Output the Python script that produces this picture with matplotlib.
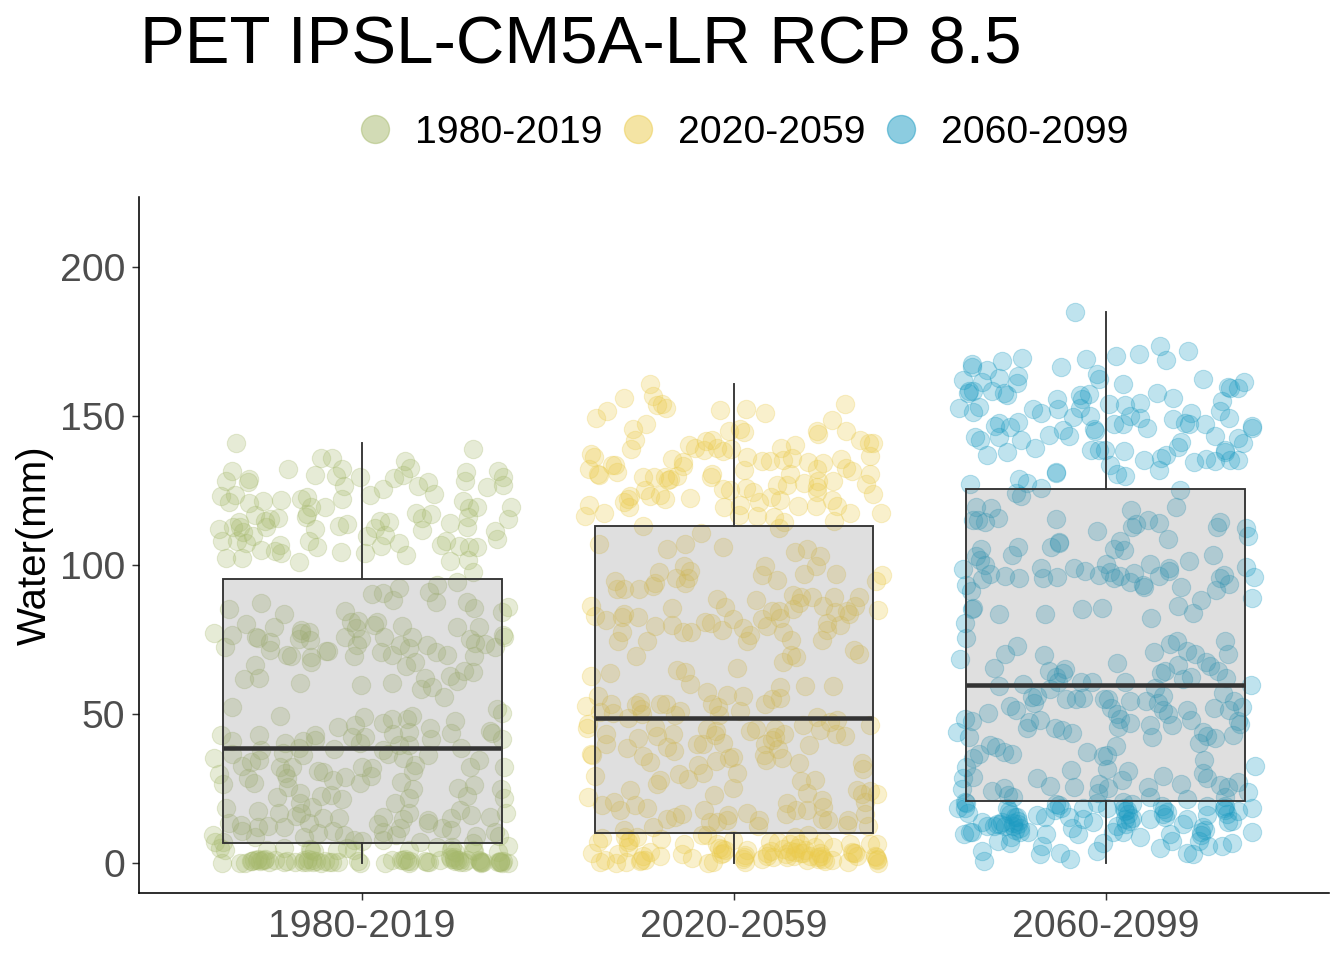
import matplotlib
matplotlib.use('Agg')
import matplotlib.pyplot as plt
from matplotlib.lines import Line2D
import numpy as np

plt.rcParams['font.family'] = ['Liberation Sans', 'DejaVu Sans']

periods = ['1980-2019', '2020-2059', '2060-2099']
colors = ['#A6B96C', '#EBCB4B', '#1B9BC2']

# boxplot values
whisker_low = [0, 0, 0]
q1 = [6.7, 10.0, 20.8]
medians = [38.6, 48.7, 59.7]
q3 = [95.3, 113.0, 125.5]
whisker_high = [140.9, 160.7, 184.9]
yticks = [0, 50, 100, 150, 200]

# (jitter around the category, water in mm)
points_1980 = [
    (-.338,140.9),(.297,139.0),(-.111,135.8),(-.082,135.8),(.116,134.9),(-.350,131.4),(-.198,132.1),(.278,131.1),
    (.366,131.5),(-.055,132.1),(.129,132.5),(-.127,130.1),(-.071,129.9),(.111,130.2),(-.005,129.4),(.087,129.1),
    (.380,129.5),(-.366,128.3),(-.308,127.8),(-.303,128.8),(.178,127.8),(.276,128.1),(.336,126.1),(.380,126.7),
    (-.050,126.5),(.151,126.5),(.055,125.4),(.020,123.4),(.192,123.7),(-.380,123.3),(-.341,123.4),(-.357,121.1),
    (-.303,120.8),(-.267,121.4),(-.219,121.7),(-.165,122.1),(-.147,122.7),(-.055,122.1),(.272,121.4),(.400,119.4),
    (-.099,119.4),(-.138,119.4),(.287,119.0),(.308,119.4),(-.289,116.9),(-.149,117.0),(-.151,116.2),(.145,117.6),
    (.186,117.1),(.160,115.9),(.286,116.2),(.393,115.4),(-.225,115.7),(-.249,115.5),(-.261,114.9),(-.332,114.3),
    (.237,114.0),(.073,114.5),(.048,114.9),(-.041,113.8),(-.061,113.1),(-.384,112.0),(-.346,112.7),(-.258,112.7),
    (-.126,112.0),(.281,112.7),(.160,111.6),(.356,111.4),(.035,112.3),(-.328,112.9),(-.319,111.2),(-.294,109.8),
    (.013,109.8),(.062,110.1),(-.377,108.2),(-.337,107.9),(-.312,107.3),(-.142,108.2),(-.121,106.0),(.362,108.6),
    (.226,107.9),(.211,106.7),(.260,106.4),(.287,106.2),(.308,106.2),(.098,107.5),(.050,106.4),(-.220,106.7),
    (-.272,105.0),(-.234,104.7),(-.219,103.9),(-.367,102.4),(-.324,102.4),(-.058,104.3),(.009,103.9),(.119,103.5),
    (-.171,101.0),(.235,101.4),(.286,101.7),(.299,97.6),(.201,93.3),(.256,94.2),(.026,90.3),(.055,90.7),
    (.099,92.2),(.181,91.0),(.084,88.2),(.198,87.5),(-.359,85.3),(-.271,87.3),(-.211,83.5),(-.045,84.5),
    (.283,87.5),(.300,85.5),(.391,86.0),(.377,84.1),(-.031,81.0),(-.010,81.1),(.041,81.0),(.032,79.9),
    (-.311,80.1),(-.237,79.1),(-.165,78.2),(-.144,77.6),(-.398,77.1),(-.351,76.5),(-.286,75.7),(-.279,75.4),
    (-.164,77.3),(-.249,74.3),(-.169,75.2),(-.139,74.8),(-.017,78.8),(-.047,75.7),(-.013,73.2),(-.003,75.1),
    (.106,79.5),(.058,75.7),(.133,76.0),(.256,79.1),(.314,79.1),(.290,75.2),(.304,73.7),(-.370,72.6),
    (-.249,71.5),(-.203,69.7),(-.190,69.5),(-.137,69.0),(-.097,71.3),(-.093,71.3),(-.023,69.5),(.052,70.9),
    (.079,69.9),(.102,73.2),(.125,72.0),(.174,73.1),(.198,70.9),(.229,69.7),(.358,72.6),(.331,73.5),
    (.382,76.0),(.378,76.5),(-.138,67.5),(-.289,66.3),(.300,69.3),(.118,66.1),(.143,67.6),(-.317,61.6),
    (-.276,62.0),(-.168,60.3),(-.002,59.6),(.079,60.3),(.168,62.0),(.235,62.8),(.254,61.2),(.275,64.3),
    (.297,64.2),(.157,58.4),(.187,59.2),(.219,55.6),(-.349,52.5),(-.222,49.2),(.362,51.8),(.375,50.5),
    (.004,48.9),(.081,48.4),(.057,46.9),(.122,48.3),(.134,49.4),(.249,47.8),(-.065,45.5),(-.019,46.3),
    (.084,43.3),(.125,44.1),(.183,45.2),(.185,41.5),(.239,43.7),(.344,44.4),(.349,43.7),(-.380,42.9),
    (-.349,41.1),(-.278,42.9),(-.207,40.2),(-.160,41.1),(-.128,43.0),(-.126,41.3),(-.026,42.4),(.008,42.4),
    (-.005,40.4),(-.075,38.1),(-.271,37.9),(.056,37.9),(.070,36.6),(.100,39.6),(.127,39.6),(.265,38.5),
    (.375,41.5),(-.398,35.1),(-.349,36.5),(-.323,32.7),(-.299,34.0),(-.276,34.4),(-.214,36.8),(-.189,32.3),
    (-.160,36.3),(-.171,38.5),(-.220,32.3),(-.207,30.1),(-.119,31.0),(-.104,30.4),(-.045,29.0),(-.001,32.3),
    (.026,31.8),(-.007,26.7),(.024,29.3),(-.077,27.9),(.109,35.1),(.142,32.9),(.136,31.0),(.178,36.3),
    (.314,34.6),(.290,32.1),(.381,32.3),(-.384,29.9),(-.373,26.5),(-.308,28.4),(-.292,27.0),(-.198,25.6),
    (-.203,28.4),(.105,27.1),(.138,24.7),(.257,25.1),(.302,26.2),(.373,24.7),(.381,21.7),(-.228,22.0),
    (-.168,23.4),(-.167,20.0),(-.110,22.5),(-.084,22.9),(-.055,21.5),(.283,22.5),(.127,21.7),(.088,20.0),
    (-.366,18.3),(-.281,17.4),(-.134,18.7),(-.224,16.7),(-.164,16.9),(-.177,15.8),(.387,16.9),(.238,15.0),
    (.263,17.8),(.293,16.1),(.344,15.3),(-.359,13.4),(-.327,12.6),(-.252,12.5),(-.209,12.2),(-.279,12.2),
    (-.106,15.0),(-.063,15.0),(-.143,13.4),(.056,15.6),(.043,13.0),(.111,14.7),(.125,16.7),(.102,11.7),
    (.176,14.5),(.176,13.4),(.239,11.1),(.357,10.5),(-.400,9.4),(-.373,7.1),(-.323,10.8),(-.288,8.8),
    (-.156,8.6),(-.120,10.0),(-.077,10.8),(-.050,9.4),(-.023,7.7),(-.001,7.5),(.057,10.5),(.057,7.7),
    (.091,9.4),(.214,11.6),(.369,9.2),(.306,9.1),(.299,6.6),(-.395,7.1),(.156,7.1),(.393,5.8),
    (-.382,4.9),(-.368,4.4),(-.377,0),(-.315,.1),(-.297,.8),(-.279,1.2),(-.261,1.2),(-.256,4.4),
    (-.211,.4),(-.203,.8),(-.210,4.9),(-.180,.4),(-.158,.4),(-.138,4.4),(-.133,.4),(-.111,.1),
    (-.090,.4),(-.064,.4),(-.041,4.9),(-.068,4.4),(-.023,4.4),(-.010,.8),(-.005,0),(.062,.1),
    (.080,1.0),(.111,1.0),(.120,.8),(.125,.1),(.125,4.4),(.174,.4),(.210,1.0),(.237,2.1),
    (.246,1.2),(.263,.4),(.281,1.0),(.317,.3),(.319,0),(.371,.3),(.375,.1),(.393,.1),
    (.299,4.4),(.241,5.5),(.201,5.5),(.366,3.8),(-.328,0),(-.234,1.0),(-.283,.9),(-.270,1.1),
    (-.135,.9),(-.148,.4),(.246,1.9),(.254,1.0),(.317,.8),(.371,.8),
    (-.300,.6),(-.290,1.0),(-.275,.6),(-.265,1.0),(-.250,.5),(-.155,.9),(-.145,1.2),(-.125,.6),
    (-.100,.8),(-.080,.5),(.105,.9),(.115,1.3),(.130,.6),(.170,.7),(.180,.3),(.240,1.4),
    (.250,.7),(.260,1.0),(.275,.5),(.320,.5),(.325,.2),(.315,.9),(.370,.5),(.380,.7),
    (.365,.2),(-.140,4.8),(-.130,4.0),(.240,4.5),(.250,3.8),(.300,4.0),
]

points_2020 = [
    (-.225,160.7),(-.219,156.7),(-.297,155.9),(-.194,153.9),(-.208,153.7),(-.183,152.6),(-.341,151.6),(-.370,149.5),
    (.298,154.2),(-.037,152.0),(.033,152.2),(.084,150.9),(.264,148.8),(-.236,147.2),(-.272,145.5),(-.265,141.9),
    (-.277,138.8),(.016,145.8),(-.013,144.9),(.026,144.6),(.222,145.1),(.227,143.8),(.301,145.1),(.339,141.8),
    (.362,141.1),(.375,140.8),(-.120,140.3),(-.105,139.1),(-.075,141.5),(-.060,142.1),(-.082,138.5),(-.047,139.3),
    (-.029,138.2),(-.007,138.8),(.127,139.4),(.165,140.4),(-.384,137.4),(-.376,136.3),(-.167,135.7),(-.138,134.5),
    (-.136,133.2),(.035,136.1),(.074,134.9),(.097,134.9),(.131,135.4),(.155,136.0),(.200,134.5),(.238,134.1),
    (.289,135.7),(.366,136.5),(-.390,132.1),(-.327,133.7),(-.319,133.5),(-.314,131.3),(-.367,130.7),(-.362,130.1),
    (-.060,130.6),(-.062,129.6),(.028,131.8),(.151,130.6),(.222,132.1),(.301,132.4),(.316,131.5),(.367,130.4),
    (-.244,129.4),(-.215,129.4),(-.186,129.6),(-.172,129.0),(-.154,129.8),(-.177,128.5),(.116,127.0),(.142,127.0),
    (.188,127.4),(.267,128.3),(.226,128.3),(.355,127.1),(-.239,125.3),(.222,126.2),(.222,124.6),(-.029,125.5),
    (-.011,125.3),(.031,125.7),(.050,124.6),(.375,123.7),(-.226,123.1),(-.199,123.4),(-.186,122.3),(-.117,122.4),
    (-.281,123.1),(-.286,122.3),(-.296,121.2),(-.283,119.3),(-.390,120.3),(-.349,117.6),(-.400,116.3),(-.027,119.5),
    (.017,120.3),(.014,116.7),(.068,121.1),(.063,116.4),(.099,122.7),(.125,121.8),(.108,116.2),(.135,114.3),
    (.122,112.5),(.173,119.7),(.221,119.7),(.263,121.8),(.276,119.7),(.313,117.3),(.270,114.7),(.396,117.3),
    (-.244,113.2),(-.088,110.6),(-.362,107.2),(-.180,105.5),(-.132,107.2),(-.029,105.9),(.165,104.5),(.196,105.5),
    (.230,103.1),(.220,99.8),(.189,97.1),(.275,97.1),(.084,99.7),(.074,96.6),(.116,95.1),(.399,96.6),
    (.382,94.5),(-.201,97.8),(-.134,99.7),(-.118,98.0),(-.123,95.8),(-.133,94.1),(-.157,95.5),(-.212,93.8),
    (-.218,92.9),(-.255,92.1),(-.295,92.0),(-.319,94.6),(-.315,92.1),(-.385,86.2),(-.373,82.8),(-.344,81.7),
    (-.297,83.7),(-.300,82.6),(-.257,82.6),(-.168,85.5),(-.168,80.0),(-.212,79.7),(-.302,77.6),(-.311,74.4),
    (-.235,74.6),(-.263,69.3),(-.136,77.4),(-.115,77.4),(-.077,81.0),(-.063,80.6),(-.032,78.1),(-.047,88.7),
    (-.025,85.9),(-.004,82.0),(.023,79.0),(.044,76.4),(.036,74.4),(.060,88.4),(.075,82.0),(.090,79.6),
    (.103,84.6),(.121,84.6),(.125,82.3),(.133,77.6),(.154,74.8),(.159,89.8),(.159,85.1),(.179,89.3),
    (.176,87.1),(.210,89.3),(.240,86.2),(.268,89.1),(.272,84.3),(.250,80.4),(.249,78.1),(.236,75.0),
    (.285,79.8),(.305,84.6),(.310,83.7),(.325,86.2),(.337,89.3),(.388,84.8),(.324,71.4),(.337,70.0),
    (.133,67.3),(.152,69.7),(.168,69.2),(.009,65.6),(-.384,62.9),(-.334,63.6),(-.152,64.7),(-.133,64.1),
    (-.119,60.2),(-.073,57.4),(-.018,56.5),(.025,56.0),(.125,58.9),(.192,59.5),(.267,59.5),(.101,55.2),
    (.125,55.5),(.084,53.5),(-.060,53.5),(-.042,52.4),(.017,50.9),(-.041,49.6),(-.367,56.2),(-.398,52.8),
    (-.330,53.5),(-.361,50.7),(-.326,50.2),(-.264,52.9),(-.254,54.1),(-.249,51.8),(-.248,50.1),(-.284,48.7),
    (-.199,53.2),(-.184,53.5),(-.145,51.0),(-.159,49.6),(-.392,46.8),(-.396,45.4),(-.343,43.2),(-.343,40.1),
    (-.289,38.6),(-.259,42.1),(-.212,45.7),(-.208,42.5),(-.163,43.2),(-.181,39.0),(-.161,37.6),(-.244,35.8),
    (-.226,33.8),(-.099,40.1),(-.084,40.1),(-.072,44.8),(-.048,44.3),(-.051,42.9),(-.029,40.3),(.043,44.3),
    (.058,45.1),(.110,45.1),(.134,43.4),(.185,46.2),(.231,44.5),(.224,49.0),(.258,47.3),(.276,47.9),
    (.274,43.4),(.299,42.6),(.367,46.2),(.203,39.5),(.083,39.8),(.101,41.2),(.110,42.3),(.119,38.4),
    (.081,36.2),(.086,34.5),(.128,35.3),(-.013,35.3),(-.002,35.6),(-.048,34.1),(-.098,33.0),(-.084,30.3),
    (-.147,29.7),(-.123,28.3),(.009,30.3),(.176,33.4),(.343,33.7),(.348,31.4),(-.385,36.7),(-.383,36.1),
    (-.375,29.1),(-.199,27.8),(-.206,26.6),(-.279,24.6),(-.055,22.7),(-.002,25.0),(.179,27.5),(.219,28.0),
    (.195,23.6),(-.392,22.0),(-.356,19.6),(-.323,20.5),(-.306,17.9),(-.265,19.6),(-.233,18.3),(-.082,17.7),
    (-.140,16.6),(-.158,15.5),(-.181,14.9),(-.217,12.1),(-.015,16.0),(-.020,14.3),(-.047,13.8),(-.065,13.8),
    (.034,16.8),(.067,14.3),(.065,12.3),(.143,20.0),(.141,16.6),(.167,17.9),(.195,17.9),(.236,21.1),
    (.240,18.8),(.236,14.9),(.254,14.3),(.307,14.3),(.331,24.4),(.343,23.3),(.366,24.2),(.385,23.0),
    (.352,20.5),(.352,16.6),(.303,12.7),(.361,12.3),(-.297,11.2),(-.356,8.5),(-.365,7.1),(-.383,3.2),
    (-.361,.4),(-.348,.9),(-.312,2.9),(-.317,0),(-.294,8.7),(-.285,7.1),(-.262,8.7),(-.290,.4),
    (-.253,.7),(-.249,1.1),(-.226,3.7),(-.199,2.2),(-.195,8.2),(-.134,6.5),(-.141,2.9),(-.114,1.8),
    (-.087,9.5),(-.073,9.3),(-.069,0),(-.056,.4),(-.047,6.5),(-.033,4.8),(-.029,3.2),(-.002,7.6),
    (.028,2.0),(.030,.4),(.036,4.3),(.074,1.5),(.088,3.2),(.097,7.1),(.106,2.0),(.119,7.1),
    (.133,4.8),(.142,2.0),(.151,6.5),(.164,3.7),(.164,8.7),(.177,6.5),(.186,3.2),(.200,9.3),
    (.195,.9),(.218,5.4),(.226,2.0),(.240,1.5),(.240,7.1),(.267,5.4),(.263,.9),(.307,.4),
    (.316,3.7),(.325,3.2),(.312,6.5),(.366,6.5),(.384,6.5),(.382,2.0),(.385,.9),(.388,0),
    (.140,3.0),(.150,4.0),(.160,2.5),(.170,5.0),(.180,3.5),(.190,4.5),(.205,2.5),(.225,1.5),
    (.235,2.5),(.245,.6),(.230,3.3),(-.035,3.0),(-.025,4.5),(-.040,5.0),(.030,2.7),(.025,1.5),
    (.320,3.5),(.330,2.5),(-.280,7.6),(-.285,5.5),(-.245,2.5),(-.240,.9),(.090,2.5),(.100,4.0),
    (.385,1.5),(.380,2.5),
]

points_2060 = [
    (-.082,184.9),(.146,173.5),(.221,171.8),(-.225,169.4),(.028,170.2),(.090,170.7),(.162,168.7),(-.053,169.2),
    (-.278,168.3),(-.359,167.3),(-.361,166.6),(-.120,166.3),(-.319,165.5),(-.384,162.1),(-.288,162.9),(-.236,163.4),
    (-.332,161.4),(-.240,161.1),(-.025,164.1),(-.019,162.3),(.262,162.4),(.047,160.8),(.329,159.8),(.333,159.5),
    (.355,159.5),(.372,161.3),(-.369,158.5),(-.357,158.5),(-.372,157.7),(-.305,158.5),(-.274,157.7),(-.267,157.0),
    (.138,157.7),(.181,156.1),(-.131,155.7),(-.070,157.1),(-.045,157.4),(-.065,155.8),(-.070,152.7),(.009,154.0),
    (.052,153.7),(.092,154.5),(.311,155.2),(-.394,152.7),(-.341,153.0),(-.357,151.5),(-.195,152.5),(-.175,151.1),
    (-.129,152.4),(-.088,149.6),(-.043,150.0),(.306,151.7),(.331,149.4),(.064,150.0),(.091,149.3),(.022,147.4),
    (.047,147.4),(.111,145.9),(.181,149.0),(.229,151.1),(.212,147.8),(.224,147.4),(.266,147.4),(.392,146.5),
    (.394,145.9),(-.287,147.8),(-.297,146.8),(-.236,148.0),(-.258,146.3),(-.031,145.6),(-.030,145.1),(-.115,145.3),
    (-.152,143.7),(-.098,143.4),(-.288,142.8),(-.227,142.0),(.294,143.3),(.355,142.6),(.369,141.0),(-.351,142.8),
    (-.339,142.0),(-.319,137.0),(-.265,137.9),(-.191,139.1),(-.041,138.7),(-.018,138.7),(-.002,138.7),(.049,138.3),
    (.203,141.4),(.194,139.7),(.163,136.9),(.148,136.0),(.103,135.3),(.320,138.5),(.320,137.9),(.333,135.4),
    (.356,135.4),(.293,135.0),(.270,135.7),(.237,134.7),(.143,132.0),(.010,133.6),(.029,130.5),(.052,130.0),
    (-.133,131.3),(-.134,131.0),(-.233,129.0),(-.213,127.4),(-.365,127.1),(-.174,125.9),(-.243,124.3),(-.229,123.0),
    (.200,125.3),(-.349,119.6),(-.309,119.1),(-.291,115.9),(-.358,115.2),(-.343,115.2),(-.324,114.6),(-.134,115.6),
    (.068,118.3),(.189,119.3),(.114,115.0),(.143,114.2),(.080,113.8),(.069,112.9),(-.025,111.3),(.308,114.5),
    (.300,112.9),(.377,112.3),(.383,109.9),(.166,108.6),(.039,108.2),(.022,105.5),(.049,104.9),(-.125,107.6),
    (-.127,107.3),(-.147,106.1),(-.236,106.1),(-.252,103.5),(-.337,105.5),(-.348,103.0),(-.339,101.8),(-.326,99.9),
    (-.312,97.1),(-.332,95.2),(-.385,98.5),(-.376,93.3),(-.363,91.2),(-.357,85.7),(-.359,85.3),(-.271,96.4),
    (-.233,95.8),(-.174,98.9),(-.168,95.8),(-.131,96.1),(-.086,98.9),(-.056,98.0),(-.018,96.8),(-.001,100.4),
    (.011,97.7),(.022,95.8),(.038,96.4),(.075,97.3),(.066,94.2),(.100,93.3),(.103,92.7),(.119,100.5),
    (.142,96.4),(.171,98.9),(.169,98.0),(.224,101.3),(.289,103.2),(.377,99.3),(.397,96.1),(.392,88.8),
    (.306,95.8),(.318,96.8),(.332,93.7),(.296,91.7),(.256,88.4),(.203,92.7),(.194,86.2),(.235,83.8),
    (.122,82.1),(-.010,85.7),(-.064,85.4),(-.165,83.7),(-.287,83.5),(-.378,80.4),(-.375,75.4),(-.391,68.6),
    (-.238,72.8),(-.271,70.1),(-.300,65.5),(-.166,69.8),(-.152,64.3),(-.110,65.1),(-.115,63.9),(-.134,62.4),
    (-.128,60.6),(.029,67.1),(.052,60.6),(-.067,60.6),(-.037,60.9),(.130,70.8),(.172,73.6),(.190,74.5),
    (.217,71.1),(.241,70.1),(.268,67.4),(.280,66.1),(.302,64.3),(.322,62.2),(.320,74.5),(.328,70.2),
    (.193,66.4),(.149,63.9),(.159,64.3),(.208,61.8),(.230,62.4),(-.287,59.3),(-.222,60.0),(-.150,58.5),
    (-.186,56.2),(-.199,55.6),(.389,59.7),(.131,58.7),(.154,56.2),(.315,56.9),(.344,54.4),(-.108,55.0),
    (-.079,55.0),(-.061,55.3),(-.005,55.0),(.006,55.0),(.065,54.4),(.141,53.8),(.108,54.2),(.365,52.5),
    (-.259,52.8),(-.243,51.5),(-.194,53.8),(-.317,50.3),(-.378,48.4),(-.359,47.6),(-.400,43.9),(-.369,42.3),
    (-.177,48.0),(-.207,47.3),(-.211,45.3),(-.137,45.4),(-.117,44.5),(-.090,43.6),(.015,51.9),(.031,50.1),
    (.038,48.2),(.066,47.0),(.033,45.7),(.118,46.3),(.123,42.4),(.154,51.3),(.168,50.1),(.177,46.4),
    (.219,51.5),(.230,48.0),(.291,51.9),(.331,51.5),(.356,47.6),(.360,46.6),(.260,44.1),(.271,42.7),
    (.293,42.1),(.251,40.2),(.341,43.1),(-.312,39.6),(-.296,39.0),(-.274,37.1),(-.253,36.5),(-.340,36.7),
    (-.357,35.2),(-.375,32.1),(-.357,28.8),(-.384,28.6),(-.050,37.4),(-.007,35.8),(.002,36.2),(.028,39.2),
    (.002,31.5),(-.095,31.1),(.265,34.4),(.260,30.3),(.272,28.4),(.400,32.4),(.060,30.9),(.154,29.3),
    (.044,27.8),(-.019,26.6),(-.085,25.6),(-.185,28.4),(-.150,25.7),(.114,25.4),(.203,26.6),(.306,26.3),
    (.329,25.4),(.354,27.2),(-.388,24.7),(-.306,24.1),(-.273,25.0),(-.262,22.9),(-.249,22.2),(.383,23.8),
    (.320,22.2),(-.021,23.5),(.006,25.3),(.118,22.2),(.217,21.6),(-.379,20.6),(-.397,18.5),(-.370,16.7),
    (-.381,9.8),(-.366,10.5),(-.334,13.6),(-.321,12.3),(-.294,13.0),(-.280,13.6),(-.289,7.4),(-.258,6.8),
    (-.267,18.5),(-.258,16.6),(-.245,15.4),(-.236,13.0),(-.231,11.7),(-.209,10.5),(-.186,16.0),(-.164,15.4),
    (-.160,9.8),(-.173,5.8),(-.176,3.1),(-.334,4.1),(-.327,.6),(-.124,3.4),(-.096,1.2),(-.133,19.8),
    (-.137,17.9),(-.098,15.4),(-.092,11.7),(-.074,9.8),(-.061,18.5),(-.061,14.8),(-.034,13.6),(-.025,20.1),
    (.002,18.5),(-.023,4.1),(-.007,6.8),(.020,10.5),(.029,12.3),(.047,20.4),(.051,17.3),(.065,14.2),
    (.069,19.8),(.091,8.6),(.118,14.8),(.150,19.2),(.154,16.6),(.145,5.0),(.172,9.8),(.177,7.4),
    (.208,13.0),(.217,14.8),(.217,3.4),(.235,3.1),(.257,10.5),(.266,11.1),(.251,7.4),(.275,5.8),
    (.271,19.1),(.272,16.0),(.317,18.5),(.320,17.9),(.313,5.8),(.338,6.8),(.329,13.6),(.338,14.0),
    (.356,17.3),(.392,18.5),(.394,10.5),(-.236,14.2),(-.249,12.3),(-.285,13.0),(.056,17.9),(.051,14.8),
    (-.250,13.5),(-.245,11.0),(-.240,15.5),(-.230,10.5),(-.270,12.5),(-.300,12.5),(-.260,17.5),(-.255,8.7),
    (.050,18.5),(.060,16.5),(.055,13.0),(.045,10.5),(.070,15.0),(.155,18.0),(.160,15.5),(.165,17.0),
    (-.380,18.5),(-.375,20.0),(-.360,10.5),(-.120,18.5),(-.125,19.5),(.255,9.5),(.260,12.0),(.320,19.0),
    (.325,16.5),
]

all_points = [points_1980, points_2020, points_2060]

fig = plt.figure(figsize=(14, 10), dpi=96)
ax = fig.add_axes([139 / 1344, 1 - 893 / 960, (1329 - 139) / 1344, (893 - 197) / 960])

# jittered points first, boxes go over them
for i, pts in enumerate(all_points):
    pts = np.array(pts)
    ax.scatter(i + 1 + pts[:, 0], pts[:, 1], s=190, color=colors[i], alpha=0.28,
               linewidths=0.8, zorder=2)

stats = []
for i in range(3):
    stats.append({'label': periods[i], 'whislo': whisker_low[i], 'q1': q1[i], 'med': medians[i],
                  'q3': q3[i], 'whishi': whisker_high[i], 'fliers': []})

bp = ax.bxp(stats, positions=[1, 2, 3], widths=0.75, patch_artist=True, showcaps=False,
            showfliers=False, zorder=3,
            boxprops=dict(facecolor=(0.5, 0.5, 0.5, 0.25), edgecolor='#333333', linewidth=1.4),
            whiskerprops=dict(color='#333333', linewidth=1.4),
            medianprops=dict(color='#333333', linewidth=3.4, solid_capstyle='butt'))

ax.set_xlim(0.4, 3.6)
ax.set_ylim(-10.07, 223.5)
ax.set_yticks(yticks)
ax.set_xticks([1, 2, 3])
ax.set_xticklabels(periods)
ax.tick_params(axis='both', labelsize=29.3, labelcolor='#4D4D4D', color='#333333', width=1.1, length=5.5, pad=5)
ax.tick_params(axis='x', pad=6.5)
ax.set_ylabel('Water(mm)', fontsize=30.2, color='black', labelpad=4)
for side in ['top', 'right']:
    ax.spines[side].set_visible(False)
for side in ['left', 'bottom']:
    ax.spines[side].set_linewidth(1.2)
    ax.spines[side].set_color('black')

fig.text(140 / 1344, 1 - 64 / 960, 'PET IPSL-CM5A-LR RCP 8.5', fontsize=50.3, color='black', ha='left', va='baseline')

handles = [Line2D([], [], linestyle='none', marker='o', markersize=21, markerfacecolor=c,
                  markeredgecolor=c, alpha=0.5) for c in colors]
fig.legend(handles, periods, loc='center', bbox_to_anchor=(739 / 1344, 1 - 133 / 960), ncols=3, frameon=False,
           fontsize=29.3, handletextpad=0.38, columnspacing=0.25, borderpad=0, handlelength=1.3)

fig.savefig('out.png', dpi=96)
